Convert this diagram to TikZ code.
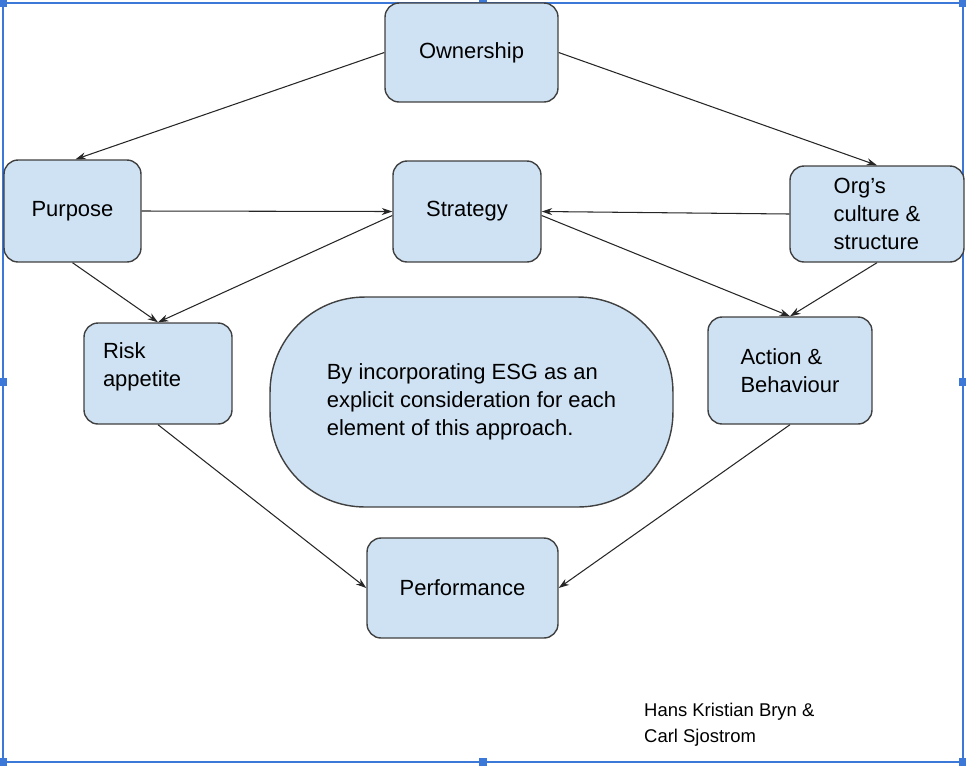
\documentclass[tikz,border=0pt]{standalone}
\usepackage{fontspec}
\setmainfont{Liberation Sans}
\usetikzlibrary{arrows.meta}
\definecolor{boxblue}{HTML}{CFE2F3}
\definecolor{selblue}{HTML}{3C78D8}
\tikzset{
  box/.style={draw=black!75, fill=boxblue, rounded corners=8pt, line width=0.8pt,
    font=\fontsize{12.5}{16}\selectfont},
  link/.style={-{Stealth[length=6pt,width=4pt]}, line width=0.6pt, black!85},
  handle/.style={fill=selblue, draw=none, minimum size=5pt, inner sep=0pt}
}
\begin{document}
\begin{tikzpicture}[x=0.02cm, y=-0.02cm]
  % frame
  \useasboundingbox (0,0) rectangle (966,765);
  \draw[selblue, line width=1pt] (3,3) rectangle (963,762);
  \foreach \hx in {3,483,963} {
    \foreach \hy in {3,382,762} {
      \ifnum\hx=483 \ifnum\hy=382 \else \node[handle] at (\hx,\hy) {}; \fi
      \else \node[handle] at (\hx,\hy) {}; \fi
    }
  }

  % boxes
  \node[box, minimum width=3.46cm, minimum height=1.98cm] (own) at (471.5,52.5) {Ownership};
  \node[box, minimum width=2.74cm, minimum height=2.04cm] (pur) at (72.5,211) {Purpose};
  \node[box, minimum width=2.96cm, minimum height=2.02cm] (str) at (467,211.5) {Strategy};
  \node[box, minimum width=3.48cm, minimum height=1.92cm, align=left] (org) at (877,214)
    {Org’s\\culture \&\\structure};
  \node[box, minimum width=2.96cm, minimum height=2.02cm, align=left, text width=2.2cm] (risk) at (158,373.5)
    {Risk\\appetite\\[-6pt]\mbox{}};
  \node[box, minimum width=8.06cm, minimum height=4.2cm, rounded corners=1.9cm, align=left] (esg) at (471.5,402)
    {By incorporating ESG as an\\explicit consideration for each\\element of this approach.};
  \node[box, minimum width=3.28cm, minimum height=2.14cm, align=left] (act) at (790,370.5)
    {Action \&\\Behaviour};
  \node[box, minimum width=3.82cm, minimum height=2cm] (perf) at (462.5,588) {Performance};

  % credit
  \node[anchor=north west, align=left, font=\fontsize{10.5}{15}\selectfont] (cred) at (638,697)
    {Hans Kristian Bryn \&\\Carl Sjostrom};

  % connectors
  \draw[link] (own.west) -- ([xshift=0.06cm]pur.north);
  \draw[link] (own.east) -- (org.north);
  \draw[link] (pur.east) -- (str.west);
  \draw[link] (org.west) -- (str.east);
  \draw[link] (pur.south) -- (risk.north);
  \draw[link] ([yshift=-0.08cm]str.west) -- (risk.north);
  \draw[link] ([yshift=-0.08cm]str.east) -- (act.north);
  \draw[link] (org.south) -- (act.north);
  \draw[link] (risk.south) -- (perf.west);
  \draw[link] (act.south) -- (perf.east);
\end{tikzpicture}
\end{document}
